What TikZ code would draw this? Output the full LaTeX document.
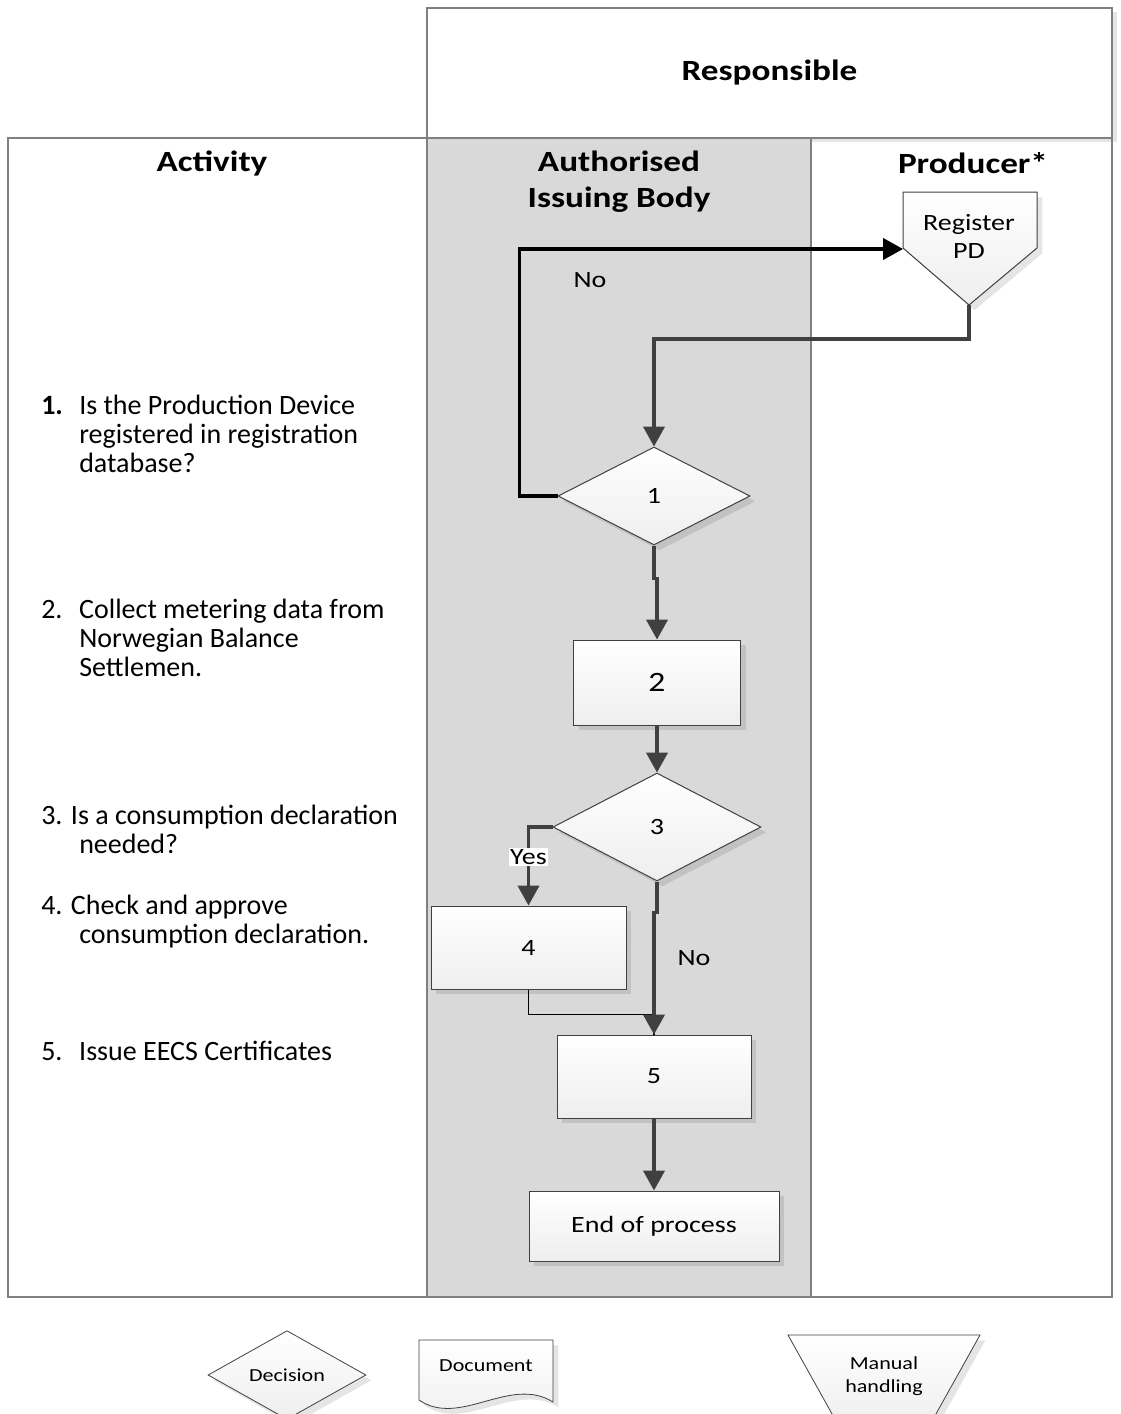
\documentclass[tikz,border=0pt]{standalone}
\usepackage{fontspec}
\setmainfont{Carlito}
\newfontfamily\widefont[FakeStretch=1.2]{Carlito}
\usetikzlibrary{shapes.geometric,arrows.meta,shadows}

\definecolor{laneColor}{RGB}{217,217,217}
\definecolor{frameColor}{RGB}{128,128,128}
\definecolor{flowColor}{RGB}{64,64,64}
\definecolor{boxColor}{RGB}{238,238,238}

\tikzset{
  frame/.style={draw=frameColor, line width=1pt},
  heading/.style={font=\widefont\bfseries\fontsize{22}{27}\selectfont, align=center},
  activity/.style={anchor=base west, inner sep=0pt, font=\fontsize{21}{21.75}\selectfont},
  flowlabel/.style={font=\widefont\fontsize{17.5}{21}\selectfont, inner sep=1pt},
  procbox/.style={draw=flowColor, line width=0.75pt, top color=white, bottom color=boxColor,
    drop shadow={shadow xshift=4pt, shadow yshift=-4pt, fill=black, opacity=0.1},
    inner sep=0pt, font=\widefont\fontsize{17.5}{21}\selectfont},
  decision/.style={procbox, diamond},
  legendshape/.style={procbox, line width=0.6pt, font=\widefont\fontsize{13.8}{17}\selectfont},
  flow/.style={draw=flowColor, line width=2.4pt, -{Triangle[length=15pt,width=16pt]}}
}

\begin{document}
\begin{tikzpicture}[x=0.75pt,y=-0.75pt]
  \useasboundingbox (0,0) rectangle (1121,1414);
  \clip (0,0) rectangle (1121,1414);
  % Lanes
  \node[frame, fill=white, minimum width=513.75pt, minimum height=97.5pt, inner sep=0pt,
    drop shadow={shadow xshift=4pt, shadow yshift=-3pt, fill=black, opacity=0.1}]
    (resp) at (769.5,73) {};
  \fill[laneColor] (427,138) rectangle (811,1297);
  \draw[frame] (8,138) rectangle (1112,1297);
  \draw[frame] (427,138) -- (427,1297);
  \draw[frame] (811,138) -- (811,1297);
  \node[heading] (respTitle) at (769.5,73) {Responsible};
  \node[heading] (actTitle) at (212,163) {Activity};
  \node[heading] (aibTitle) at (619,182) {Authorised\\Issuing Body};
  \node[heading] (prodTitle) at (973,163) {Producer*};

  % Activities
  \node[activity] (act1) at (41,414) {\begin{tabular}[t]{@{}p{28.5pt}@{}l@{}}
    \textbf{1.} & Is the Production Device\\ & registered in registration\\ & database?\end{tabular}};
  \node[activity] (act2) at (41,618) {\begin{tabular}[t]{@{}p{28.5pt}@{}l@{}}
    2. & Collect metering data from\\ & Norwegian Balance\\ & Settlemen.\end{tabular}};
  \node[activity] (act3) at (41,824) {\begin{tabular}[t]{@{}p{28.5pt}@{}l@{}}
    \multicolumn{2}{@{}l@{}}{3. Is a consumption declaration}\\ & needed?\end{tabular}};
  \node[activity] (act4) at (41,914) {\begin{tabular}[t]{@{}p{28.5pt}@{}l@{}}
    \multicolumn{2}{@{}l@{}}{4. Check and approve}\\ & consumption declaration.\end{tabular}};
  \node[activity] (act5) at (41,1060) {\begin{tabular}[t]{@{}p{28.5pt}@{}l@{}}
    5. & Issue EECS Certificates\end{tabular}};

  % Register PD
  \draw[procbox] (903,192) -- (1037,192) -- (1037,248) -- (969,305) -- (903,248) -- cycle;
  \node[flowlabel, align=center] (reg) at (969,236) {Register\\PD};
  \coordinate (regin) at (903,249);
  \coordinate (regout) at (969,305);

  % Steps
  \node[decision, minimum width=144pt, minimum height=73.5pt] (d1) at (654,496) {1};
  \node[procbox, minimum width=125.25pt, minimum height=63.75pt,
    font=\widefont\fontsize{21}{24}\selectfont] (b2) at (657,682.5) {2};
  \node[decision, minimum width=156pt, minimum height=81pt] (d3) at (657,827) {3};
  \node[procbox, minimum width=146.25pt, minimum height=62.25pt] (b4) at (528.5,947.5) {4};
  \node[procbox, minimum width=145.5pt, minimum height=62.25pt] (b5) at (654,1076.5) {5};
  \node[procbox, minimum width=187.5pt, minimum height=52.5pt] (endp) at (654,1226) {End of process};

  % Connectors
  \draw[flow, draw=black] (d1.west) -- ++(-38,0) |- (regin);
  \node[flowlabel] (no1) at (590,280) {No};
  \draw[flow] (regout) -- ++(0,34) -| (d1.north);
  \draw[flow] (d1.south) -- ++(0,33) -| (b2.north);
  \draw[flow] (b2.south) -- (d3.north);
  \draw[flow] (d3.west) -| (b4.north) node[flowlabel, fill=white, pos=0.69] (yes3) {Yes};
  \draw[line width=1pt] (b4.south) -- ++(0,25) -| (b5.north);
  \draw[flow] (d3.south) -- ++(0,31) -| (b5.north);
  \node[flowlabel] (no3) at (694,958) {No};
  \draw[flow] (b5.south) -- (endp.north);

  % Legend
  \node[legendshape, diamond, minimum width=118.5pt, minimum height=63pt] (legDec) at (287,1375) {Decision};
  \draw[legendshape] (419,1340) -- (553,1340) -- (553,1402)
    .. controls (510,1375) and (460,1428) .. (419,1400) -- cycle;
  \node[font=\widefont\fontsize{13.8}{17}\selectfont] (legDoc) at (486,1366) {Document};
  \draw[legendshape] (788,1335) -- (980,1335) -- (927,1430) -- (841,1430) -- cycle;
  \node[font=\widefont\fontsize{13.8}{17}\selectfont, align=center] (legMan) at (884,1376) {Manual\\handling};
\end{tikzpicture}
\end{document}
